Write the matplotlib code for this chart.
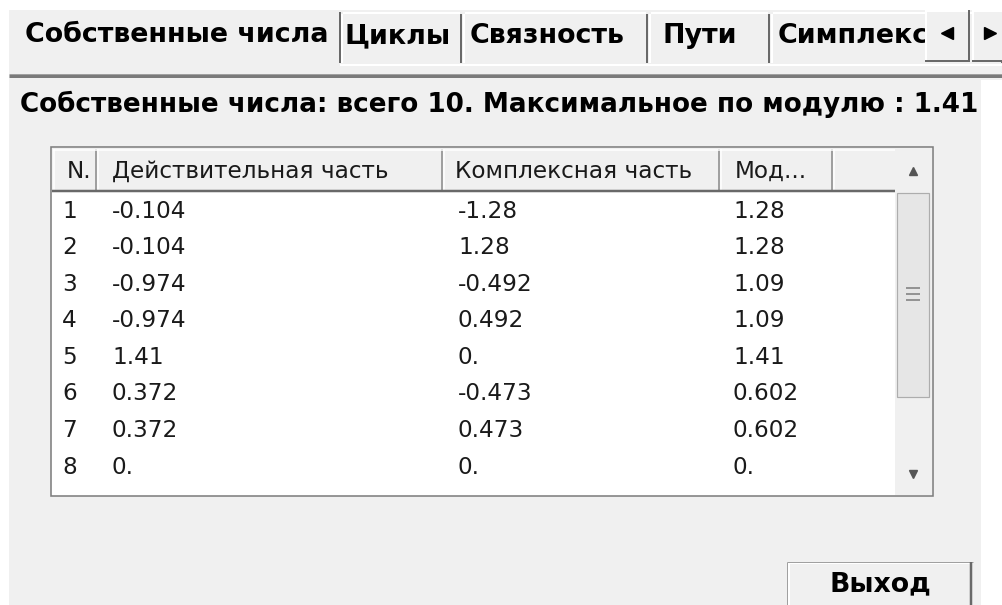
import matplotlib
matplotlib.use("Agg")
import matplotlib.pyplot as plt
from matplotlib.patches import Rectangle

# data
tab_names = ["Собственные числа", "Циклы", "Связность", "Пути", "Симплекс"]
title = "Собственные числа: всего 10. Максимальное по модулю : 1.41"
columns = ["N.", "Действительная часть", "Комплексная часть", "Мод..."]
row_no = ["1", "2", "3", "4", "5", "6", "7", "8"]
real_part = ["-0.104", "-0.104", "-0.974", "-0.974", "1.41", "0.372", "0.372", "0."]
imag_part = ["-1.28", "1.28", "-0.492", "0.492", "0.", "-0.473", "0.473", "0."]
modulus = ["1.28", "1.28", "1.09", "1.09", "1.41", "0.602", "0.602", "0."]
button_text = "Выход"

# layout (pixels, y down)
W, H = 1003, 605
GREY = "#f0f0f0"
DARK = "#696969"
MID = "#a0a0a0"
tab_x = [9, 340, 462, 648, 770]
tab_text_x = [25, 345, 470, 663, 778]
col_x = [52, 97, 443, 720, 833, 895]
col_text_x = [67, 112, 455, 735]
cell_text_x = [62, 112, 458, 733]
row_y0, row_dy = 211, 36.6

fig = plt.figure(figsize=(W / 100, H / 100), dpi=100)
ax = fig.add_axes([0, 0, 1, 1])
ax.set_xlim(0, W)
ax.set_ylim(H, 0)
ax.axis("off")
fig.patch.set_facecolor("white")
renderer = fig.canvas.get_renderer()


def hline(y, x0, x1, color, lw=1.0, z=2):
    ax.plot([x0, x1], [y, y], color=color, lw=lw * 0.72,
            solid_capstyle="butt", zorder=z)


def vline(x, y0, y1, color, lw=1.0, z=2):
    ax.plot([x, x], [y0, y1], color=color, lw=lw * 0.72,
            solid_capstyle="butt", zorder=z)


def rect(x0, y0, x1, y1, color, z=1):
    ax.add_patch(Rectangle((x0, y0), x1 - x0, y1 - y0, facecolor=color,
                           edgecolor="none", zorder=z))


def put(x, y, s, width=None, **kw):
    t = ax.text(x, y, s, va="center", **kw)
    if width:
        w = t.get_window_extent(renderer).width
        t.set_fontsize(t.get_fontsize() * width / w)
    return t


# panel
rect(9, 10, W, H, GREY, z=0)
rect(981, 80, W, H, "white", z=0)

# tabs
t0 = put(tab_text_x[0], 35, tab_names[0], width=298, fontsize=20,
         fontweight="bold", family="DejaVu Sans", color="black")
tab_fs = t0.get_fontsize() * 1.02
t0.set_fontsize(tab_fs)
for i in range(1, len(tab_names)):
    x0 = tab_x[i]
    x1 = tab_x[i + 1] if i + 1 < len(tab_x) else W
    hline(13, x0 + 3, x1 - 2, "white", 2)
    vline(x0 + 2, 14, 63, "white", 2)
    vline(x1 - 1, 14, 63, DARK, 2)
    put(tab_text_x[i], 36, tab_names[i], fontsize=tab_fs,
        fontweight="bold", family="DejaVu Sans", color="black")
vline(340, 12, 63, DARK, 2)
hline(65, 340, W, "white", 2)

# scroll buttons of the tab strip (drawn over the clipped last tab)
for bx0, bx1, mk in [(925, 970, "<"), (972, 1015, ">")]:
    rect(bx0, 10, bx1, 62, GREY, z=5)
    hline(11, bx0, bx1, "white", 2, z=6)
    vline(bx0 + 1, 10, 62, "white", 2, z=6)
    vline(bx1 - 1, 10, 62, DARK, 2, z=6)
    hline(61, bx0, bx1, DARK, 2, z=6)
    ax.plot((bx0 + bx1) / 2 if bx1 < W else 990, 33, marker=mk, ms=9,
            color="black", clip_on=False, zorder=7)

# separator under tabs
hline(74, 9, W, MID, 1)
hline(76, 9, W, "#7a7a7a", 3)

# title
put(20, 104, title, width=962, fontsize=18, fontweight="bold",
    family="DejaVu Sans", color="black")

# table frame
rect(51, 147, 933, 496, "white")
rect(52, 148, 895, 191, GREY)
for x in col_x[1:-1]:
    vline(x - 1, 149, 190, MID, 2)
    vline(x + 1, 149, 190, "white", 1.5)
vline(54, 149, 190, "white", 1.5)
hline(150, 53, 895, "white", 1.5)
hline(191, 52, 895, DARK, 2.5)
ax.add_patch(Rectangle((51, 147), 882, 349, facecolor="none",
                       edgecolor="#7f7f7f", lw=1.6 * 0.72, zorder=3))

th = put(col_text_x[1], 171, columns[1], width=278, fontsize=14,
         family="DejaVu Sans", color="#1a1a1a")
table_fs = th.get_fontsize()
for j in (0, 2, 3):
    put(col_text_x[j], 171, columns[j], fontsize=table_fs,
        family="DejaVu Sans", color="#1a1a1a")

for i in range(len(row_no)):
    y = row_y0 + i * row_dy
    for j, col in enumerate([row_no, real_part, imag_part, modulus]):
        put(cell_text_x[j], y, col[i], fontsize=table_fs,
            family="DejaVu Sans", color="#1a1a1a")

# scrollbar
rect(895, 148, 932, 495, GREY, z=2)
ax.add_patch(Rectangle((897, 193), 32, 204, facecolor="#e6e6e6",
                       edgecolor="#adadad", lw=1.2 * 0.72, zorder=2))
for gy in (288, 294, 300):
    hline(gy, 906, 920, "#7a7a7a", 1.5, z=3)
ax.plot(913, 171, marker="^", ms=6, color="#555555", zorder=3)
ax.plot(913, 474, marker="v", ms=6, color="#555555", zorder=3)

# exit button
rect(788, 562, 972, H + 5, GREY)
hline(563, 788, 972, "white", 2)
vline(789, 562, H, "white", 2)
hline(562, 787, 973, MID, 1)
vline(787, 562, H, MID, 1)
vline(971, 562, H, DARK, 2.5)
put(880, 584, button_text, width=102, fontsize=16, fontweight="bold",
    family="DejaVu Sans", color="black", ha="center")

fig.savefig("out.png", dpi=100)
